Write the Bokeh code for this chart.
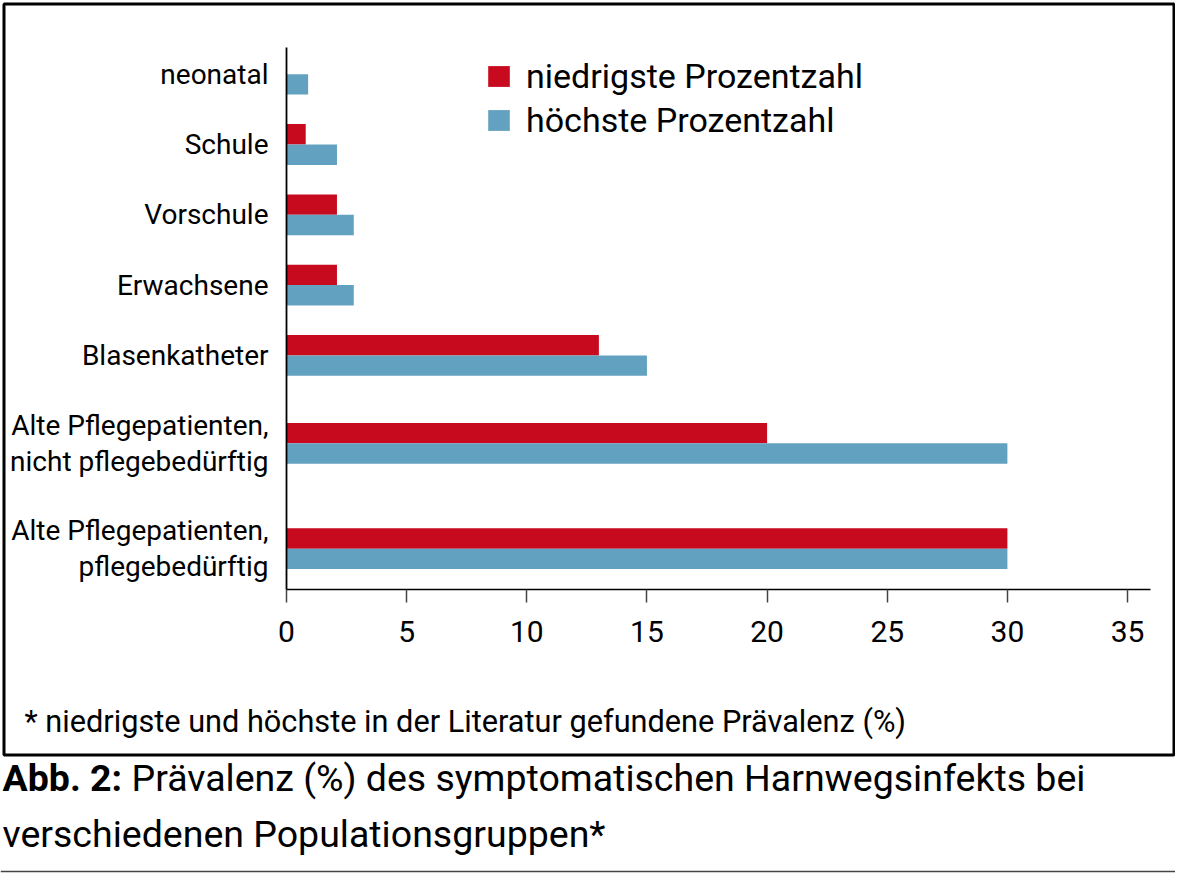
from bokeh.plotting import figure
from bokeh.models import (ColumnDataSource, Range1d, FixedTicker, Legend, LegendItem,
                          Label, BoxAnnotation)
from bokeh.embed import file_html
from bokeh.resources import INLINE

# ---- data ----
categories = ["neonatal", "Schule", "Vorschule", "Erwachsene", "Blasenkatheter",
              "Alte Pflegepatienten,\nnicht pflegebedürftig",
              "Alte Pflegepatienten,\npflegebedürftig"]
niedrigste = [float("nan"), 0.8, 2.1, 2.1, 13.0, 20.0, 30.0]
hoechste = [0.9, 2.1, 2.8, 2.8, 15.0, 30.0, 30.0]
x_ticks = [0, 5, 10, 15, 20, 25, 30, 35]
x_max = 35.95
series_names = ["niedrigste Prozentzahl", "höchste Prozentzahl"]
footnote = "* niedrigste und höchste in der Literatur gefundene Prävalenz (%)"
caption_bold = "Abb. 2:"
caption_line1 = "Prävalenz (%) des symptomatischen Harnwegsinfekts bei"
caption_line2 = "verschiedenen Populationsgruppen*"

RED = "#C80A1E"
BLUE = "#62A1BF"
FONT = "Roboto"

# ---- layout (canvas pixels) ----
W, H = 1175, 880
PX0, PXU = 286.0, 24.03     # pixel of x=0, pixels per x unit
PY0, PYU = 73.7, 70.3       # pixel of first category, pixels per category step
AX_TOP, AX_BOT = 46.7, 589.3

# category positions: group spacing grows with number of label lines
half = [0.5 + 0.25 * c.count("\n") for c in categories]
pos = [0.0]
for i in range(1, len(categories)):
    pos.append(pos[-1] + half[i - 1] + half[i])
bar_h = 0.29

src = ColumnDataSource(dict(
    y_low=[v - bar_h / 2 for v in pos],
    y_high=[v + bar_h / 2 for v in pos],
    low=niedrigste, high=hoechste))

p = figure(width=W, height=H, output_backend="svg", toolbar_location=None,
           x_range=Range1d(-PX0 / PXU, (W - PX0) / PXU),
           y_range=Range1d((H - PY0) / PYU, -PY0 / PYU),
           min_border=0)
p.outline_line_color = None
p.xgrid.visible = False
p.ygrid.visible = False
p.background_fill_color = "white"
p.border_fill_color = "white"

r_low = p.hbar(y="y_low", right="low", left=0, height=bar_h, source=src,
               fill_color=RED, line_color=None)
r_high = p.hbar(y="y_high", right="high", left=0, height=bar_h, source=src,
                fill_color=BLUE, line_color=None)

y_ax_top = (AX_TOP - PY0) / PYU
y_ax_bot = (AX_BOT - PY0) / PYU

# x axis
xa = p.xaxis[0]
xa.fixed_location = y_ax_bot
xa.bounds = (0, x_max)
xa.ticker = FixedTicker(ticks=x_ticks)
xa.axis_line_color = "black"
xa.axis_line_width = 1.5
xa.major_tick_line_color = "#444444"
xa.major_tick_line_width = 1.5
xa.major_tick_out = 13
xa.major_tick_in = 0
xa.minor_tick_line_color = None
xa.major_label_text_font = FONT
xa.major_label_text_font_size = "30px"
xa.major_label_text_color = "black"
xa.major_label_standoff = 18

# y axis
ya = p.yaxis[0]
ya.fixed_location = 0
ya.bounds = (y_ax_top, y_ax_bot)
ya.ticker = FixedTicker(ticks=pos)
ya.major_label_overrides = {v: c for v, c in zip(pos, categories)}
ya.axis_line_color = "black"
ya.axis_line_width = 1.8
ya.major_tick_line_color = None
ya.minor_tick_line_color = None
ya.major_label_text_font = FONT
ya.major_label_text_font_size = "28px"
ya.major_label_text_line_height = 1.09
ya.major_label_text_color = "black"
ya.major_label_standoff = 12

legend = Legend(items=[LegendItem(label=series_names[0], renderers=[r_low]),
                       LegendItem(label=series_names[1], renderers=[r_high])],
                location=(485, 740))
legend.label_text_font = FONT
legend.label_text_font_size = "34px"
legend.label_text_color = "black"
legend.glyph_width = 27
legend.glyph_height = 26
legend.label_standoff = 14
legend.spacing = 4
legend.padding = 0
legend.margin = 0
legend.border_line_color = None
legend.background_fill_alpha = 0
p.add_layout(legend)

# frame box and rule (screen units: from left / from bottom)
p.add_layout(BoxAnnotation(left=3.5, right=W - 1.5, top=H - 3.5, bottom=H - 754.5,
                           left_units="screen", right_units="screen",
                           top_units="screen", bottom_units="screen",
                           fill_alpha=0, line_color="black", line_alpha=1,
                           line_width=3))
p.add_layout(BoxAnnotation(left=0, right=W, top=H - 870.3, bottom=H - 871.7,
                           left_units="screen", right_units="screen",
                           top_units="screen", bottom_units="screen",
                           fill_color="#444444", fill_alpha=1, line_alpha=0))

def lab(x, baseline, text, size, style="normal"):
    # place by the text's middle (em box), computed from the wanted baseline
    mid = baseline - 0.342 * size
    p.add_layout(Label(x=x, y=H - mid, x_units="screen", y_units="screen", text=text,
                       text_font=FONT, text_font_size=f"{size}px",
                       text_font_style=style, text_baseline="middle",
                       text_color="black"))

lab(24, 731, footnote, 30.7)
lab(2, 790, caption_bold, 37.5, "bold")
lab(131, 790, caption_line1, 37.5)
lab(2, 846.7, caption_line2, 37.5)

open("out.html", "w").write(file_html(p, INLINE))
